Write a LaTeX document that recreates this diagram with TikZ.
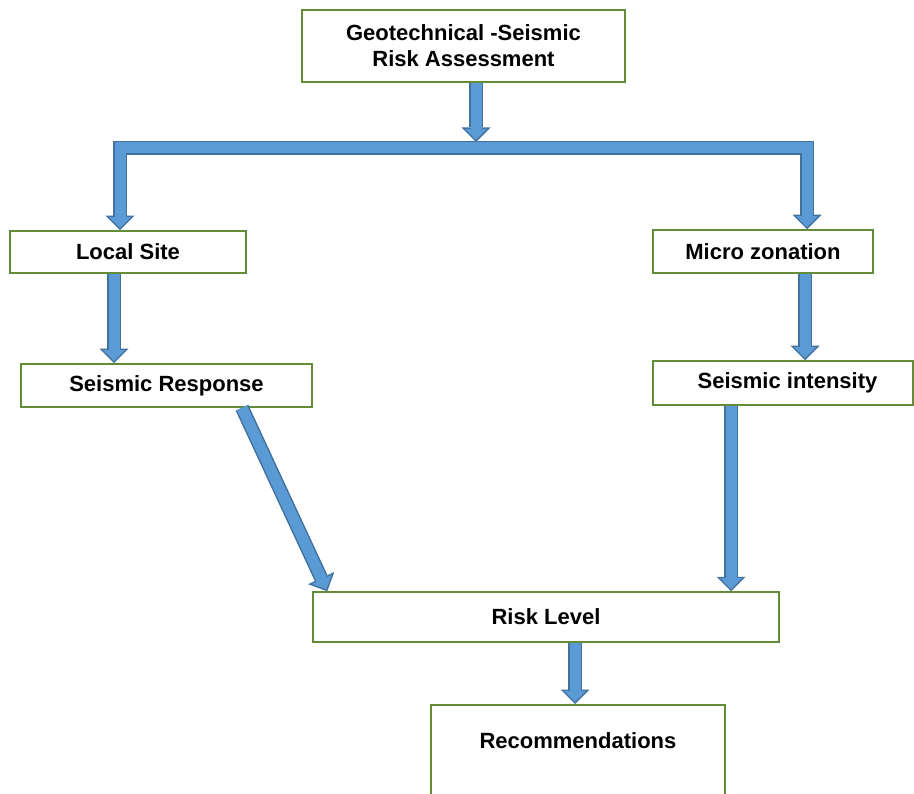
\documentclass[tikz,border=0pt]{standalone}
\usepackage{fontspec}
\setmainfont{Liberation Sans}
\usetikzlibrary{arrows.meta}

\definecolor{boxgreen}{RGB}{98,140,56}
\definecolor{arrowfill}{RGB}{91,155,213}
\definecolor{arrowedge}{RGB}{65,113,156}

\tikzset{
  FatOut/.tip={Triangle[width=29pt,length=14.5pt,line width=0pt]},
  FatIn/.tip={Triangle[width=22pt,length=11pt,line width=0pt]},
  fatedge/.style={draw=arrowedge,line width=14pt,line join=miter,-FatOut},
  fatfill/.style={draw=arrowfill,line width=11pt,line join=miter,-FatIn,shorten >=2.1pt}
}
% block arrow: dark pass, then light pass
\newcommand{\fatarrow}[1]{%
  \draw[fatedge] #1;
  \draw[fatfill] #1;}

\begin{document}
\begin{tikzpicture}[x=1pt,y=-1pt,
    stepbox/.style={draw=boxgreen,line width=1.5pt,fill=white,inner sep=0pt,
      align=center,font=\bfseries\fontsize{22}{26}\selectfont}]
  \useasboundingbox (0,0) rectangle (914,794);

  % boxes
  \node[stepbox,minimum width=323pt,minimum height=72pt] (ga) at (463.5,46)
    {Geotechnical -Seismic\\Risk Assessment};
  \node[stepbox,minimum width=236pt,minimum height=42pt] (ls) at (128,252) {Local Site};
  \node[stepbox,minimum width=220pt,minimum height=43pt] (mz) at (763,251.5) {Micro zonation};
  \node[stepbox,minimum width=291pt,minimum height=43pt] (sr) at (166.5,385.5) {Seismic Response};
  \node[stepbox,minimum width=260pt,minimum height=44pt] (si) at (783,383)
    {\hspace*{9pt}Seismic intensity};
  \node[stepbox,minimum width=466pt,minimum height=50pt] (rl) at (546,617) {Risk Level};
  \node[stepbox,minimum width=294pt,anchor=north,inner ysep=28pt,text depth=70pt]
    (rc) at (578,704) {Recommendations};

  % junction bar
  \coordinate (jn) at (476,148);
  \coordinate (jt) at (476,142);
  \fatarrow{(jn) -| ([xshift=-8pt]ls.north)}
  \fatarrow{(jn) -| ([xshift=44pt]mz.north)}
  \fatarrow{([xshift=12.5pt]ga.south) -- (jt)}

  % arrows between steps
  \fatarrow{([xshift=-14pt]ls.south) -- ([xshift=-14pt]ls.south |- sr.north)}
  \fatarrow{([xshift=42pt]mz.south) -- ([xshift=42pt]mz.south |- si.north)}
  \fatarrow{([xshift=75.5pt]sr.south) -- ([xshift=15pt]rl.north west)}
  \fatarrow{([xshift=-52pt]si.south) -- ([xshift=-52pt]si.south |- rl.north)}
  \fatarrow{([xshift=29pt]rl.south) -- ([xshift=29pt]rl.south |- rc.north)}
\end{tikzpicture}
\end{document}
